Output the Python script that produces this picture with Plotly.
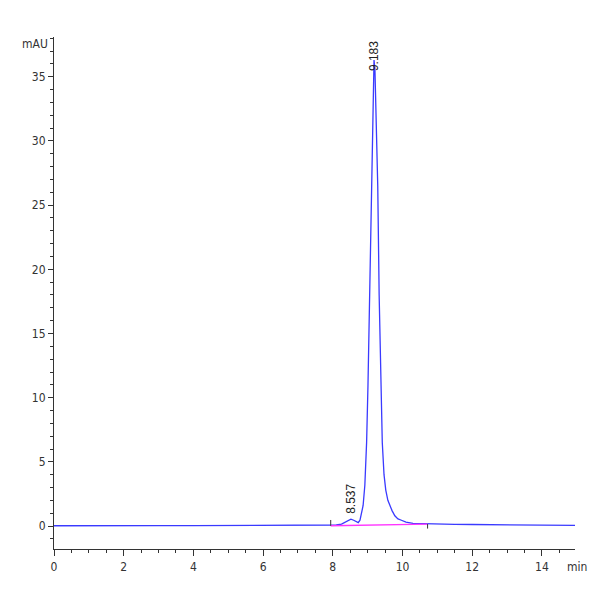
import plotly.graph_objects as go

# Chromatogram trace (retention time in min, absorbance in mAU)
time_min = [0.0, 0.5, 1.0, 1.3, 1.35, 2.0, 2.6, 2.7, 3.0, 4.0, 5.0, 6.0, 7.0, 7.5,
            7.9, 8.1, 8.25, 8.35, 8.45, 8.52, 8.6, 8.68, 8.73, 8.78, 8.83, 8.87,
            8.92, 8.97, 9.01, 9.05, 9.09, 9.13, 9.16, 9.183, 9.21, 9.24, 9.29,
            9.33, 9.37, 9.42, 9.47, 9.52, 9.58, 9.64, 9.7, 9.78, 9.87, 9.97,
            10.1, 10.3, 10.6, 11.0, 11.5, 12.0, 12.5, 13.0, 13.5, 14.0, 14.5, 14.95]
signal_mau = [0.02, 0.03, 0.02, 0.0, 0.03, 0.02, 0.04, 0.02, 0.03, 0.03, 0.04, 0.05, 0.05, 0.05,
              0.06, 0.08, 0.15, 0.28, 0.45, 0.53, 0.45, 0.3, 0.26, 0.45, 1.0, 1.6,
              3.2, 6.5, 11.0, 17.0, 24.0, 31.0, 35.0, 36.3, 35.5, 31.5, 26.5,
              18.0, 11.5, 6.5, 4.0, 2.8, 2.0, 1.55, 1.2, 0.8, 0.55, 0.45,
              0.3, 0.2, 0.17, 0.14, 0.13, 0.12, 0.1, 0.09, 0.07, 0.06, 0.05, 0.05]

# Integration baseline
baseline_t = [7.94, 8.75, 10.72]
baseline_v = [0.02, 0.07, 0.15]

# Peak labels
peak_t = [8.537, 9.183]
peak_v = [0.6, 36.3]
peak_labels = ["8.537", "9.183"]

x_ticks = [0, 2, 4, 6, 8, 10, 12, 14]
y_ticks = [0, 5, 10, 15, 20, 25, 30, 35]

tick_font = dict(family="Liberation Sans Narrow, Arial Narrow, DejaVu Sans Condensed, sans-serif",
                 size=12, color="#333333")

fig = go.Figure()
fig.add_trace(go.Scatter(x=time_min, y=signal_mau, mode="lines",
                         line=dict(color="#3a3aff", width=1.3), hoverinfo="skip"))
fig.add_trace(go.Scatter(x=baseline_t, y=baseline_v, mode="lines",
                         line=dict(color="#ff33ff", width=1.4), hoverinfo="skip"))
# baseline start/end tick marks
fig.add_trace(go.Scatter(x=[baseline_t[0], baseline_t[0], None, baseline_t[-1], baseline_t[-1]],
                         y=[baseline_v[0], baseline_v[0] + 0.45, None, baseline_v[-1], baseline_v[-1] - 0.35],
                         mode="lines", line=dict(color="#333333", width=1), hoverinfo="skip"))

for t, v, lab in zip(peak_t, peak_v, peak_labels):
    fig.add_annotation(x=t, y=v, text=lab, textangle=-90, showarrow=False,
                       xanchor="center", yanchor="bottom",
                       yshift=-13 if lab == "9.183" else 2,
                       font=dict(family="Liberation Sans, Arial, sans-serif", size=12, color="#222222"))

fig.add_annotation(x=0, y=1, xref="paper", yref="paper", text="mAU", showarrow=False,
                   xanchor="right", yanchor="middle", xshift=-4, yshift=-7, font=tick_font)
fig.add_annotation(x=1, y=0, xref="paper", yref="paper", text="min", showarrow=False,
                   xanchor="left", yanchor="top", xshift=-10, yshift=-9, font=tick_font)

fig.update_layout(
    width=600, height=600,
    margin=dict(l=46, r=33, t=29, b=59),
    paper_bgcolor="white", plot_bgcolor="white",
    showlegend=False,
)
fig.update_xaxes(range=[0, 14.95], tickvals=x_ticks, ticktext=[str(v) for v in x_ticks],
                 showgrid=False, zeroline=False, showline=True, linecolor="#333333", linewidth=1.2,
                 ticks="outside", ticklen=6, tickcolor="#333333", tickfont=tick_font,
                 minor=dict(dtick=0.5, tick0=0, ticks="outside", ticklen=3, tickcolor="#333333", showgrid=False))
fig.update_yaxes(range=[-1.79, 38.1], tickvals=y_ticks, ticktext=[str(v) for v in y_ticks],
                 showgrid=False, zeroline=False, showline=True, linecolor="#333333", linewidth=1.2,
                 ticks="outside", ticklen=5, tickcolor="#333333", tickfont=tick_font,
                 minor=dict(dtick=1, tick0=0, ticks="outside", ticklen=3, tickcolor="#333333", showgrid=False))

fig.write_html("out.html")
